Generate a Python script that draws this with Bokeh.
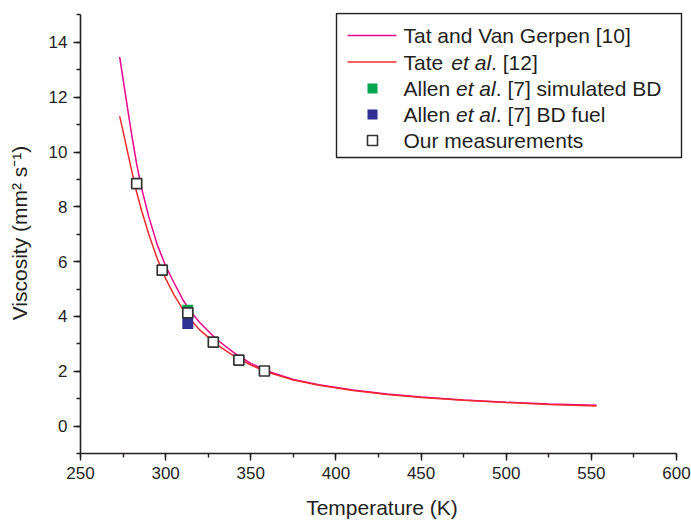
from bokeh.plotting import figure
from bokeh.models import Range1d, SingleIntervalTicker, BoxAnnotation, PolyAnnotation, Label
from bokeh.embed import file_html
from bokeh.resources import INLINE

# ---------------- data ----------------
T_tat = [273, 275, 278, 280, 283, 286, 290, 295, 300, 305, 310, 315, 320, 330,
         340, 350, 360, 375, 390, 410, 430, 450, 475, 500, 525, 553]
mu_tat = [13.47, 12.66, 11.45, 10.65, 9.55, 8.65, 7.66, 6.63, 5.84, 5.22, 4.62, 4.15,
          3.78, 3.16, 2.68, 2.29, 2.00, 1.70, 1.51, 1.32, 1.17, 1.06, 0.95, 0.87, 0.81, 0.76]

T_tate = [273, 275, 278, 280, 283, 286, 290, 295, 300, 305, 310, 315, 320, 330,
          340, 350, 360, 375, 390, 410, 430, 450, 475, 500, 525, 553]
mu_tate = [11.31, 10.75, 9.90, 9.34, 8.52, 7.84, 7.02, 6.12, 5.38, 4.78, 4.27, 3.86,
           3.51, 2.97, 2.56, 2.23, 1.96, 1.68, 1.49, 1.30, 1.15, 1.04, 0.94, 0.86, 0.79, 0.73]

T_allen_sim = [313]
mu_allen_sim = [4.23]
T_allen_bd = [313]
mu_allen_bd = [3.74]

T_ours = [283, 298, 313, 328, 343, 358]
mu_ours = [8.85, 5.69, 4.13, 3.06, 2.41, 2.01]

x_label = "Temperature (K)"
y_label = "Viscosity (mm\u00b2 s\u207b\u00b9)"

# ---------------- styling ----------------
FONT = "Liberation Sans"
INK = "#231f20"
MAGENTA = "#ec008c"
RED = "#ef2b2d"
GREEN = "#00a651"
BLUE = "#2e3192"

# frame slightly larger than the axes so the legend box can sit at the top-right edge
p = figure(width=691, height=521, x_range=Range1d(250, 604.1), y_range=Range1d(-1, 15.09),
           output_backend="svg", toolbar_location=None,
           min_border_left=80, min_border_right=8, min_border_top=12, min_border_bottom=68)
p.outline_line_color = None
p.grid.visible = False
p.background_fill_color = "white"
p.border_fill_color = "white"

p.xaxis.ticker = SingleIntervalTicker(interval=50, num_minor_ticks=2)
p.yaxis.ticker = SingleIntervalTicker(interval=2, num_minor_ticks=2)
p.xaxis.bounds = (250, 600)
p.yaxis.bounds = (-1, 15)
for ax in (p.xaxis, p.yaxis):
    ax.axis_line_color = INK
    ax.axis_line_width = 1.6
    ax.major_tick_line_color = INK
    ax.minor_tick_line_color = INK
    ax.major_tick_line_width = 1.4
    ax.minor_tick_line_width = 1.4
    ax.major_tick_in = 0
    ax.major_tick_out = 7
    ax.minor_tick_in = 0
    ax.minor_tick_out = 4
    ax.major_label_text_font = FONT
    ax.major_label_text_font_size = "17px"
    ax.major_label_text_color = INK
    ax.major_label_standoff = 6
    ax.axis_label_text_font = FONT
    ax.axis_label_text_font_size = "21px"
    ax.axis_label_text_font_style = "normal"
    ax.axis_label_text_color = INK
p.xaxis.axis_label = x_label
p.yaxis.axis_label = y_label
p.xaxis.axis_label_standoff = 14
p.yaxis.axis_label_standoff = 15

p.line(T_tat, mu_tat, line_color=MAGENTA, line_width=1.5)
p.line(T_tate, mu_tate, line_color=RED, line_width=1.5)
p.scatter(T_allen_sim, mu_allen_sim, marker="square", size=11, fill_color=GREEN, line_color=None)
p.scatter(T_allen_bd, mu_allen_bd, marker="square", size=11, fill_color=BLUE, line_color=None)
p.scatter(T_ours, mu_ours, marker="square", size=10, fill_color="white", line_color="#333333", line_width=1.7)

# ---------------- hand-made legend (screen units) ----------------
FL, FB = 80, 453   # frame left / bottom in canvas pixels


def sx(px):
    return px - FL


def sy(py):
    return FB - py


W = {' ': 278, '(': 333, ')': 333, '.': 278, '[': 278, ']': 278, '0': 556, '1': 556,
     '2': 556, '7': 556, 'A': 667, 'B': 667, 'D': 722, 'G': 778, 'O': 778, 'T': 611,
     'V': 667, 'a': 556, 'd': 556, 'e': 556, 'f': 278, 'i': 222, 'l': 222, 'm': 833,
     'n': 556, 'p': 556, 'r': 333, 's': 500, 't': 278, 'u': 556}
LFS = 21


def tw(s):
    return sum(W.get(c, 556) for c in s) * LFS / 1000.0


p.add_layout(BoxAnnotation(left=sx(336), right=sx(681), top=sy(13), bottom=sy(157),
                           left_units="screen", right_units="screen",
                           top_units="screen", bottom_units="screen",
                           fill_color="white", fill_alpha=1.0,
                           line_color=INK, line_alpha=1.0, line_width=1.4))

rows_y = [35, 61.5, 88, 114, 140]
TX = 403

for yy, col in ((rows_y[0], MAGENTA), (rows_y[1], RED)):
    p.add_layout(PolyAnnotation(xs=[sx(347), sx(396)], ys=[sy(yy), sy(yy)],
                                xs_units="screen", ys_units="screen",
                                line_color=col, line_alpha=1.0, line_width=1.5, fill_alpha=0))

for yy, fc, lc in ((rows_y[2], GREEN, None), (rows_y[3], BLUE, None), (rows_y[4], "white", "#333333")):
    p.add_layout(BoxAnnotation(left=sx(367), right=sx(377), top=sy(yy - 5), bottom=sy(yy + 5),
                               left_units="screen", right_units="screen",
                               top_units="screen", bottom_units="screen",
                               fill_color=fc, fill_alpha=1.0,
                               line_color=lc, line_alpha=1.0, line_width=1.6))


def label(x, y, text, style="normal"):
    p.add_layout(Label(x=sx(x), y=sy(y), x_units="screen", y_units="screen", text=text,
                       text_baseline="middle", text_align="left", text_font=FONT,
                       text_font_size=f"{LFS}px", text_font_style=style, text_color=INK))


def rich(y, parts):
    x = TX
    for txt, style in parts:
        label(x, y, txt, style)
        x += tw(txt)


rich(rows_y[0], [("Tat and Van Gerpen [10]", "normal")])
rich(rows_y[1], [("Tate ", "normal"), ("et al", "italic"), (". [12]", "normal")])
rich(rows_y[2], [("Allen ", "normal"), ("et al", "italic"), (". [7] simulated BD", "normal")])
rich(rows_y[3], [("Allen ", "normal"), ("et al", "italic"), (". [7] BD fuel", "normal")])
rich(rows_y[4], [("Our measurements", "normal")])

open("out.html", "w").write(file_html(p, INLINE))
